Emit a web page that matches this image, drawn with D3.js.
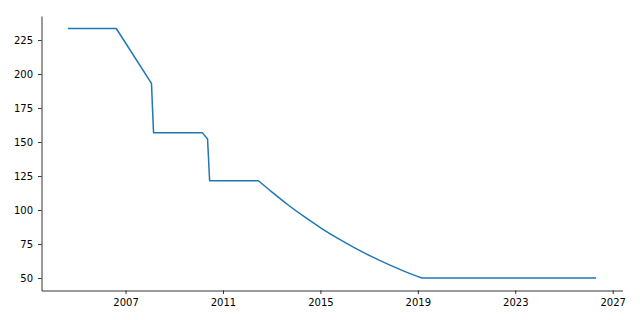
<!DOCTYPE html>
<html>
<head>
<meta charset="utf-8">
<script src="https://cdn.jsdelivr.net/npm/d3@7"></script>
<style>
  body { margin: 0; background: #fff; }
  svg { display: block; }
  .tick text { font-family: "DejaVu Sans", sans-serif; font-size: 10px; fill: #000; }
</style>
</head>
<body>
<div id="chart"></div>
<script>
// data
const dates = [
  "2004-08-20", "2006-08-15", "2008-01-25", "2008-02-25", "2010-02-25",
  "2010-05-15", "2010-06-15", "2012-06-15", "2013-01-05", "2013-09-10",
  "2014-05-15", "2015-01-22", "2015-09-27", "2016-06-05", "2017-02-10",
  "2017-10-16", "2018-06-24", "2019-03-05", "2026-04-27"
];
const values = [
  233.5, 233.5, 193.2, 156.9, 156.9,
  152.2, 121.5, 121.5, 113.2, 103.5,
  94.7, 86.4, 78.9, 72.0, 65.7,
  60.0, 54.7, 50.0, 50.0
];
const xTickYears = [2007, 2011, 2015, 2019, 2023, 2027];
const yTicks = [50, 75, 100, 125, 150, 175, 200, 225];

// dimensions
const W = 640, H = 320;
const margin = { top: 16, right: 17.5, bottom: 29.5, left: 41.5 };
const width = W - margin.left - margin.right;
const height = H - margin.top - margin.bottom;

const parse = d3.timeParse("%Y-%m-%d");
const data = dates.map((d, i) => ({ date: parse(d), value: values[i] }));

const svg = d3.select("#chart")
  .append("svg")
  .attr("width", W)
  .attr("height", H)
  .append("g")
  .attr("transform", "translate(" + margin.left + "," + margin.top + ")");

// 5% padding like matplotlib
const xExt = d3.extent(data, d => +d.date);
const xPad = (xExt[1] - xExt[0]) * 0.05;
const xScale = d3.scaleTime()
  .domain([new Date(xExt[0] - xPad), new Date(xExt[1] + xPad)])
  .range([0, width]);

const yExt = d3.extent(values);
const yPad = (yExt[1] - yExt[0]) * 0.05;
const yScale = d3.scaleLinear()
  .domain([yExt[0] - yPad, yExt[1] + yPad])
  .range([height, 0]);

// axes
svg.append("g")
  .attr("transform", "translate(0," + height + ")")
  .call(d3.axisBottom(xScale)
    .tickValues(xTickYears.map(y => new Date(y, 0, 1)))
    .tickFormat(d3.timeFormat("%Y"))
    .tickSize(3.5)
    .tickSizeOuter(0)
    .tickPadding(4.5));

svg.append("g")
  .call(d3.axisLeft(yScale)
    .tickValues(yTicks)
    .tickSize(3.5)
    .tickSizeOuter(0)
    .tickPadding(5));

svg.selectAll(".domain, .tick line")
  .attr("stroke", "#000")
  .attr("stroke-width", 0.8);

// the line: straight pieces, smooth decay from mid 2012 to 2019
const lineLin = d3.line()
  .x(d => xScale(d.date))
  .y(d => yScale(d.value));
const lineSmooth = d3.line()
  .curve(d3.curveMonotoneX)
  .x(d => xScale(d.date))
  .y(d => yScale(d.value));

const pathD = lineLin(data.slice(0, 8))
  + lineSmooth(data.slice(7, 18)).replace(/^M/, "L")
  + lineLin(data.slice(17)).replace(/^M/, "L");

svg.append("path")
  .attr("fill", "none")
  .attr("stroke", "#1f77b4")
  .attr("stroke-width", 1.5)
  .attr("stroke-linejoin", "round")
  .attr("d", pathD);
</script>
</body>
</html>
